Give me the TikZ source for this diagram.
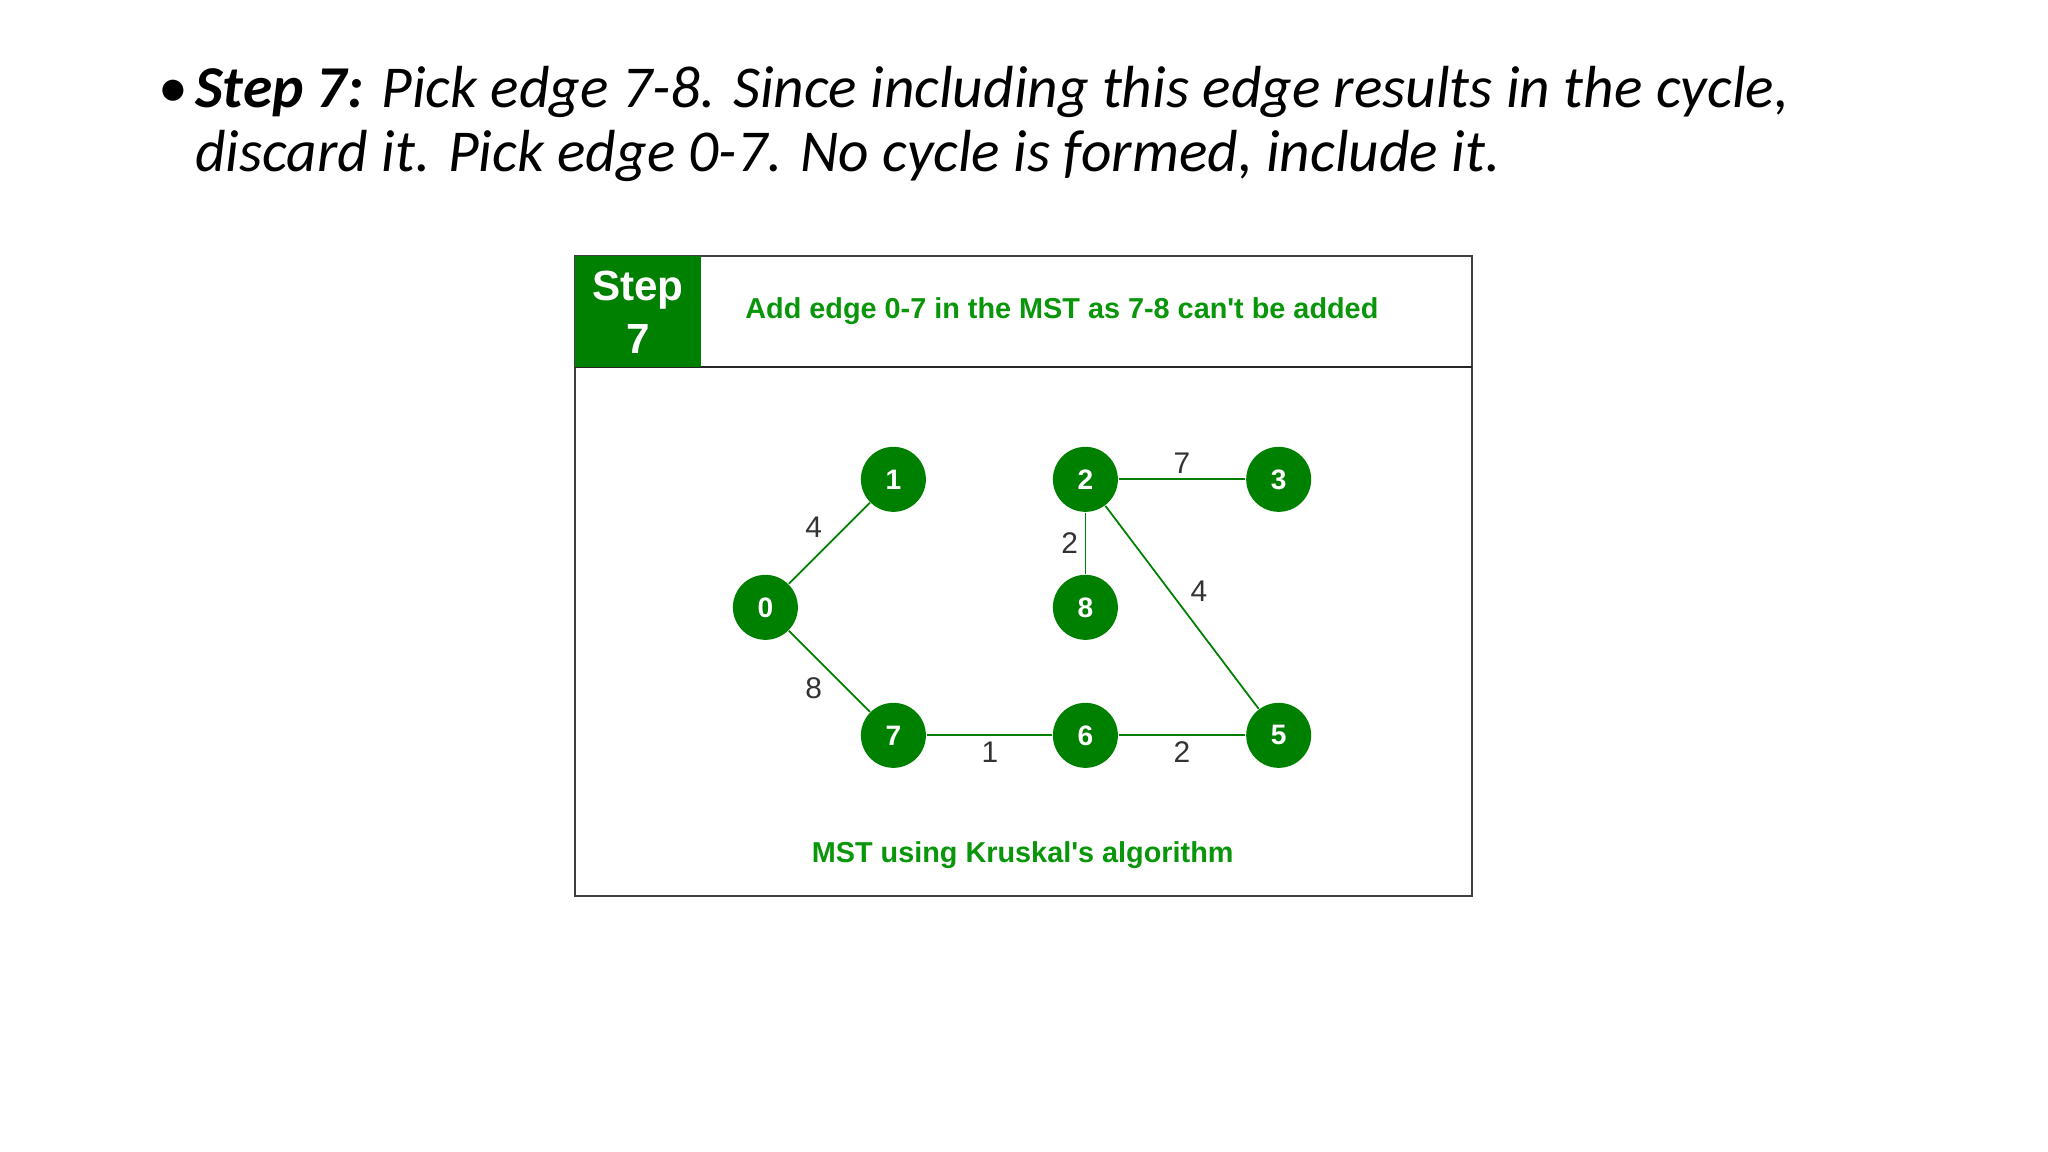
\documentclass[tikz,border=0pt]{standalone}
\usepackage{fontspec}
\setmainfont{Carlito}
\newfontfamily\arialfont{Liberation Sans}
\usetikzlibrary{positioning}
\definecolor{gfg}{RGB}{0,128,0}
\definecolor{gfgtext}{RGB}{10,150,10}

\begin{document}
\begin{tikzpicture}[x=0.01306cm, y=-0.01306cm,
  vert/.style = {draw=none, fill=gfg, circle, minimum size=0.65cm, inner sep=0pt,
                 text=white, font=\arialfont\bfseries\fontsize{8}{8}\selectfont},
  wlabel/.style = {font=\arialfont\fontsize{8.5}{9}\selectfont, text=black!80},
  link/.style = {draw=gfg, line width=0.5pt}]
  \useasboundingbox (0,0) rectangle (1568,882);
  \fill[white] (0,0) rectangle (1568,882);

  % bullet text
  \node[anchor=base west, inner sep=0pt, font=\fontsize{17}{21}\selectfont] (bul) at (121,82) {\textbullet};
  \node[anchor=north west, inner sep=0pt, align=left,
        font=\fontsize{16.9}{18.2}\selectfont\itshape] (head) at (149,50)
    {\textbf{Step 7:} Pick edge 7-8. Since including this edge results in the cycle,\\
     discard it. Pick edge 0-7. No cycle is formed, include it.};

  % frame
  \draw[black!75, line width=0.6pt] (440,196) rectangle (1127,686);
  \draw[black!85, line width=0.6pt] (440,281) -- (1127,281);
  \fill[gfg] (440,196) rectangle (537,281);
  \node[align=center, text=white, font=\arialfont\bfseries\fontsize{12}{15}\selectfont] (step) at (488.5,239) {Step\\7};
  \node[text=gfgtext, font=\arialfont\bfseries\fontsize{8.2}{10}\selectfont] (title) at (813,238)
    {Add edge 0-7 in the MST as 7-8 can't be added};

  % vertices
  \node[vert] (0) at (586,465) {0};
  \node[vert] (1) at (684,367) {1};
  \node[vert] (2) at (831,367) {2};
  \node[vert] (3) at (979,367) {3};
  \node[vert] (8) at (831,465) {8};
  \node[vert] (7) at (684,563) {7};
  \node[vert] (6) at (831,563) {6};
  \node[vert] (5) at (979,563) {5};

  \path[link]
  (0) edge (1)
  (0) edge (7)
  (7) edge (6)
  (6) edge (5)
  (2) edge (3)
  (2) edge (8)
  (2) edge (5);

  \node[wlabel] (w01) at (623,404) {4};
  \node[wlabel] (w07) at (623,527) {8};
  \node[wlabel] (w23) at (905,355) {7};
  \node[wlabel] (w28) at (819,416) {2};
  \node[wlabel] (w25) at (918,453) {4};
  \node[wlabel] (w76) at (758,576) {1};
  \node[wlabel] (w65) at (905,576) {2};

  \node[text=gfgtext, font=\arialfont\bfseries\fontsize{8.2}{10}\selectfont] (cap) at (783,655)
    {MST using Kruskal's algorithm};
\end{tikzpicture}
\end{document}
